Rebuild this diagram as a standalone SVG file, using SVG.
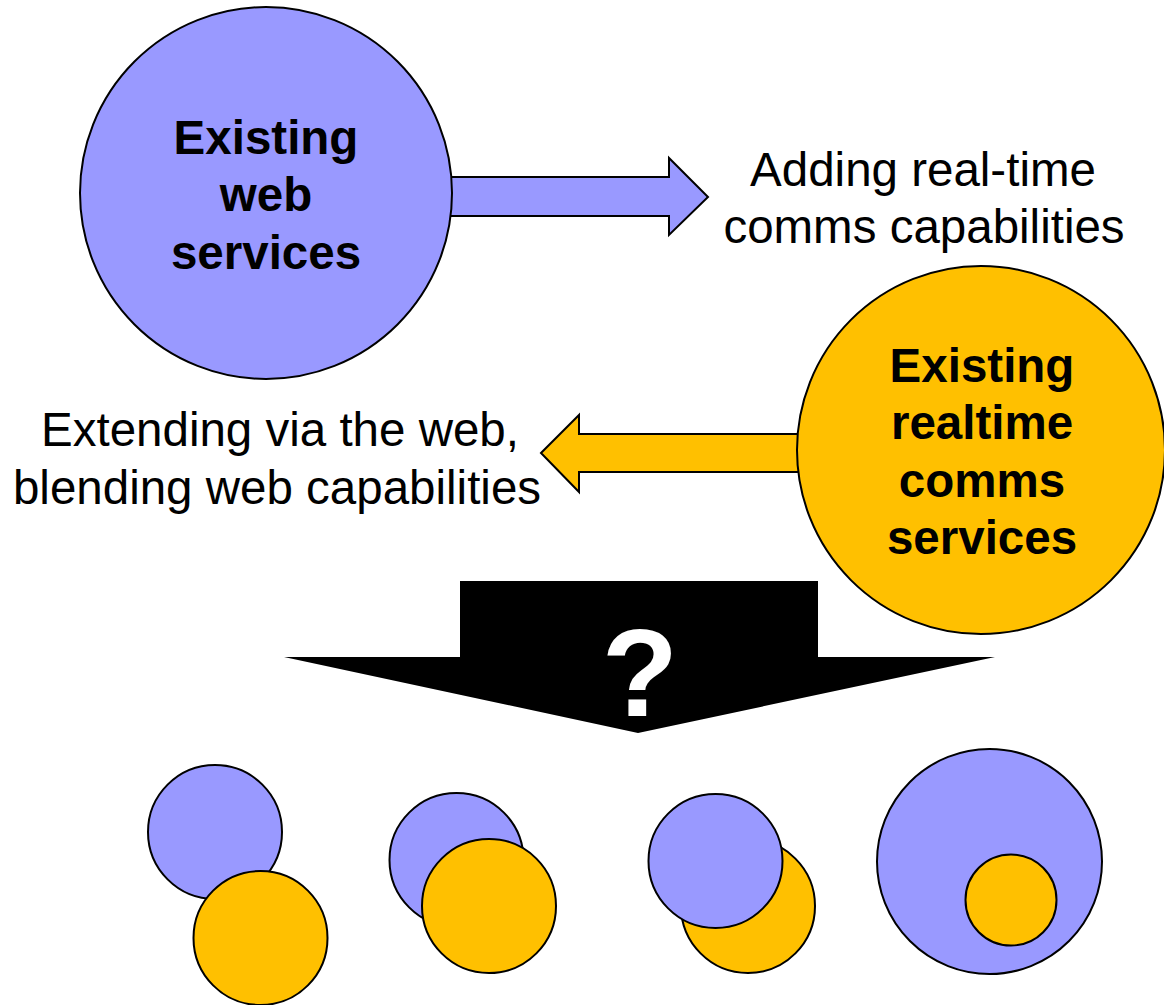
<svg xmlns="http://www.w3.org/2000/svg" width="1164" height="1005" viewBox="0 0 1164 1005">
<style>
.blue{fill:#9999FF;stroke:#000;stroke-width:2}
.orange{fill:#FFC000;stroke:#000;stroke-width:2}
.bold{font-family:"Liberation Sans",Arial,sans-serif;font-weight:bold;font-size:47.5px;fill:#000;text-anchor:middle}
.reg{font-family:"Liberation Sans",Arial,sans-serif;font-size:47.5px;fill:#000;text-anchor:middle}
</style>
<rect width="1164" height="1005" fill="#fff"/>
<g id="connectors">
<polygon class="blue" points="440,177 669,177 669,158 708,197 669,235 669,216 440,216"/>
<polygon class="orange" points="541,453 579,415 579,434 810,434 810,472 579,472 579,492"/>
<polygon fill="#000" points="460,581 818,581 818,657 995,657 638,733 284,657 460,657"/>
</g>
<g id="web-services">
<circle class="blue" cx="266" cy="193" r="186"/>
<text class="bold" x="266" y="154">Existing</text>
<text class="bold" x="266" y="211">web</text>
<text class="bold" x="266" y="269">services</text>
</g>
<g id="rtc-services">
<circle class="orange" cx="981" cy="450" r="184"/>
<text class="bold" x="982" y="382">Existing</text>
<text class="bold" x="982" y="439">realtime</text>
<text class="bold" x="982" y="497">comms</text>
<text class="bold" x="982" y="554">services</text>
</g>
<g id="label-adding">
<text class="reg" x="923" y="186">Adding real-time</text>
<text class="reg" x="924" y="243">comms capabilities</text>
</g>
<g id="label-extending">
<text class="reg" x="280" y="446">Extending via the web,</text>
<text class="reg" x="277" y="504">blending web capabilities</text>
</g>
<g id="question">
<text x="640" y="716" font-family="'Liberation Sans',Arial,sans-serif" font-weight="bold" font-size="125" fill="#fff" text-anchor="middle">?</text>
</g>
<g id="option-1">
<circle class="blue" cx="215" cy="832" r="67"/>
<circle class="orange" cx="260.5" cy="938" r="67"/>
</g>
<g id="option-2">
<circle class="blue" cx="456.5" cy="860" r="67"/>
<circle class="orange" cx="489" cy="906" r="67"/>
</g>
<g id="option-3">
<circle class="orange" cx="748" cy="906" r="67"/>
<circle class="blue" cx="715.5" cy="861" r="67"/>
</g>
<g id="option-4">
<circle class="blue" cx="989.5" cy="861.5" r="112.5"/>
<circle class="orange" cx="1011" cy="900" r="45.5"/>
</g>
</svg>
